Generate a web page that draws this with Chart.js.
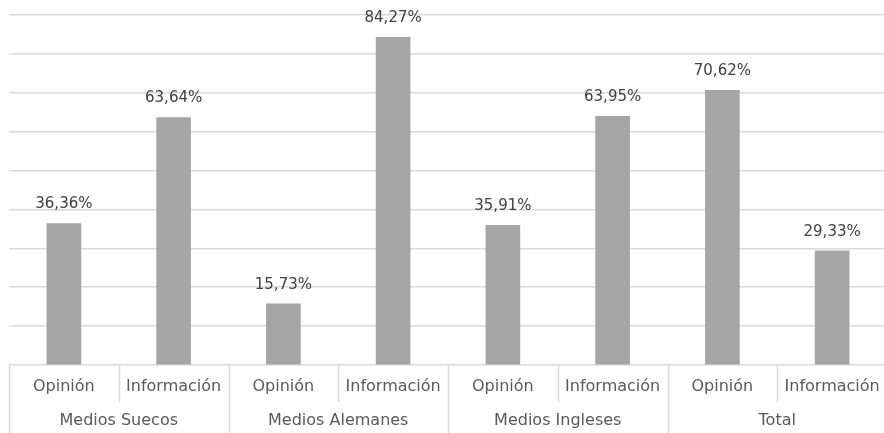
<!DOCTYPE html>
<html>
<head>
<meta charset="utf-8">
<script src="https://cdn.jsdelivr.net/npm/chart.js@4"></script>
<style>
  html, body { margin: 0; padding: 0; background: #fff; overflow: hidden; }
  #wrap { width: 887px; height: 433px; }
</style>
</head>
<body>
<div id="wrap"><canvas id="tipoChart"></canvas></div>
<script>
// Tipo de artículo por medio
const groups = ['Medios Suecos', 'Medios Alemanes', 'Medios Ingleses', 'Total'];
const types = ['Opinión', 'Información'];
const values = [36.36, 63.64, 15.73, 84.27, 35.91, 63.95, 70.62, 29.33];

const labels = [];
groups.forEach(g => types.forEach(t => labels.push(t)));

const FONT = '"DejaVu Sans", sans-serif';
const LINE = '#d9d9d9';

// value labels above each bar
const barLabels = {
    id: 'barLabels',
    afterDatasetsDraw(chart) {
        const ctx = chart.ctx;
        const meta = chart.getDatasetMeta(0);
        ctx.save();
        ctx.font = '15px ' + FONT;
        ctx.fillStyle = '#404040';
        ctx.textAlign = 'center';
        ctx.textBaseline = 'middle';
        meta.data.forEach((bar, i) => {
            const txt = values[i].toFixed(2).replace('.', ',') + '%';
            ctx.fillText(txt, bar.x, bar.y - 19);
        });
        ctx.restore();
    }
};

// two-level category axis under the plot
const groupAxis = {
    id: 'groupAxis',
    afterDraw(chart) {
        const ctx = chart.ctx;
        const x = chart.scales.x;
        const area = chart.chartArea;
        const step = x.getPixelForTick(1) - x.getPixelForTick(0);
        const bottom = chart.height;
        ctx.save();
        ctx.strokeStyle = LINE;
        ctx.lineWidth = 1.5;
        for (let i = 0; i <= labels.length; i++) {
            const px = Math.round(x.getPixelForTick(0) - step / 2 + i * step) + 0.5;
            ctx.beginPath();
            ctx.moveTo(px, area.bottom);
            ctx.lineTo(px, i % types.length === 0 ? bottom : area.bottom + 37);
            ctx.stroke();
        }
        ctx.fillStyle = '#595959';
        ctx.textAlign = 'center';
        ctx.textBaseline = 'middle';
        ctx.font = '16px ' + FONT;
        labels.forEach((l, i) => {
            ctx.fillText(l, x.getPixelForTick(i), area.bottom + 22);
        });
        groups.forEach((g, gi) => {
            const a = x.getPixelForTick(gi * types.length);
            const b = x.getPixelForTick(gi * types.length + types.length - 1);
            ctx.fillText(g, (a + b) / 2, area.bottom + 56);
        });
        ctx.restore();
    }
};

new Chart(document.getElementById('tipoChart'), {
    type: 'bar',
    data: {
        labels: labels,
        datasets: [{
            data: values,
            backgroundColor: '#a5a5a5',
            barThickness: 34
        }]
    },
    options: {
        responsive: true,
        maintainAspectRatio: false,
        animation: false,
        layout: { padding: { left: 9, top: 15, right: 0, bottom: 0 } },
        plugins: {
            legend: { display: false },
            tooltip: { enabled: false }
        },
        scales: {
            x: {
                grid: { display: false },
                border: { display: false },
                ticks: { display: false },
                afterFit(scale) { scale.height = 68; }
            },
            y: {
                min: 0,
                max: 90,
                ticks: { display: false, stepSize: 10 },
                border: { display: false },
                grid: { color: LINE, lineWidth: 1.5, drawTicks: false },
                afterFit(scale) { scale.width = 0; }
            }
        }
    },
    plugins: [barLabels, groupAxis]
});
</script>
</body>
</html>
